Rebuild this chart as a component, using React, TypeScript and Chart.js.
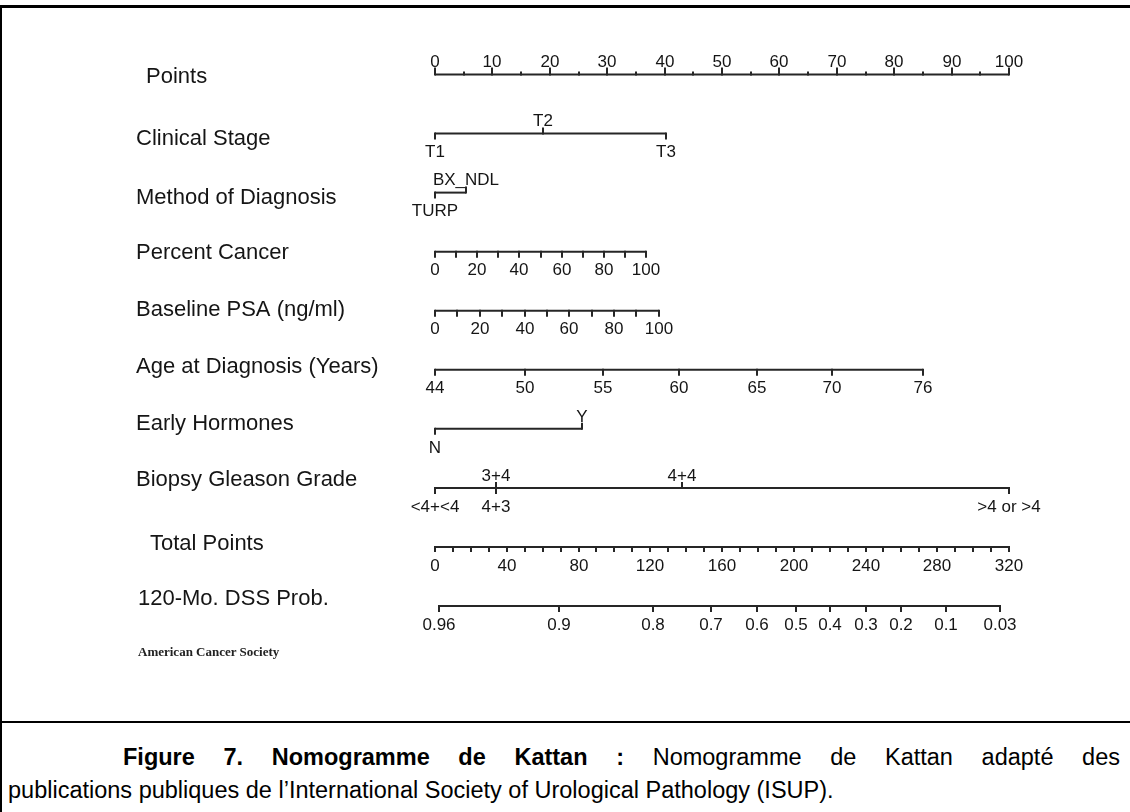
import React, { useEffect, useRef } from 'react';
import { Chart, registerables } from 'chart.js';
Chart.register(...registerables);

// ---------- data ----------
const rowNames = [
  'Points',
  'Clinical Stage',
  'Method of Diagnosis',
  'Percent Cancer',
  'Baseline PSA (ng/ml)',
  'Age at Diagnosis (Years)',
  'Early Hormones',
  'Biopsy Gleason Grade',
  'Total Points',
  '120-Mo. DSS Prob.',
];

const pointsMajor = [0, 10, 20, 30, 40, 50, 60, 70, 80, 90, 100];
const pointsMinor = [5, 15, 25, 35, 45, 55, 65, 75, 85, 95];

const stageLabels = ['T1', 'T2', 'T3'];
const stagePoints = [0, 18.8, 40.2];

const methodLabels = ['TURP', 'BX_NDL'];
const methodPoints = [0, 5.4];

const percentValues = [0, 10, 20, 30, 40, 50, 60, 70, 80, 90, 100];
const percentLabelValues = [0, 20, 40, 60, 80, 100];
const percentMaxPoints = 36.8;

const psaValues = [0, 10, 20, 30, 40, 50, 60, 70, 80, 90, 100];
const psaLabelValues = [0, 20, 40, 60, 80, 100];
const psaMaxPoints = 39.0;

const ageValues = [44, 50, 55, 60, 65, 70, 76];
const agePoints = [0, 15.7, 29.2, 42.5, 56.1, 69.2, 85.0];

const hormoneLabels = ['N', 'Y'];
const hormonePoints = [0, 25.6];

const gleasonLabels = ['<4+<4', '3+4', '4+3', '4+4', '>4 or >4'];
const gleasonPoints = [0, 10.6, 10.6, 43.0, 100];

const totalValues = [0, 10, 20, 30, 40, 50, 60, 70, 80, 90, 100, 110, 120, 130, 140, 150, 160, 170, 180, 190, 200, 210, 220, 230, 240, 250, 260, 270, 280, 290, 300, 310, 320];
const totalLabelValues = [0, 40, 80, 120, 160, 200, 240, 280, 320];
const totalMax = 320;

const dssLabels = ['0.96', '0.9', '0.8', '0.7', '0.6', '0.5', '0.4', '0.3', '0.2', '0.1', '0.03'];
const dssTotalPoints = [2.2, 69, 121.5, 154, 179.5, 201, 220, 240, 260, 285, 315];

// ---------- styles ----------
const INK = '#151515';
const LINE = '#262626';
const ROW_FONT = '22px "Liberation Sans", Arial, sans-serif';
const TICK_FONT = '17px "Liberation Sans", Arial, sans-serif';
const rowLabelX = [146, 136, 136, 136, 136, 136, 136, 136, 150, 138];
const rowLabelDy = [2.5, 5.4, 5.4, 1.3, -0.7, -2.8, -4.9, -7.9, -3, -7];

type Mark = { p: number; tick: number; dir: 'up' | 'down' | 'both' | 'none'; label?: string; side?: 'above' | 'below' };

export default function App() {
  const ref = useRef<HTMLCanvasElement>(null);

  useEffect(() => {
    const canvas = ref.current!;
    const rows: Mark[][] = [];
    rows.push([
      ...pointsMajor.map((v) => ({ p: v, tick: 7, dir: 'up' as const, label: String(v), side: 'above' as const })),
      ...pointsMinor.map((v) => ({ p: v, tick: 3, dir: 'up' as const })),
    ]);
    rows.push(stageLabels.map((l, i) => ({ p: stagePoints[i], tick: 6, dir: i === 1 ? 'up' as const : 'down' as const, label: l, side: i === 1 ? 'above' as const : 'below' as const })));
    rows.push(methodLabels.map((l, i) => ({ p: methodPoints[i], tick: 6, dir: i === 1 ? 'up' as const : 'down' as const, label: l, side: i === 1 ? 'above' as const : 'below' as const })));
    rows.push(percentValues.map((v) => ({ p: (v / 100) * percentMaxPoints, tick: 6, dir: 'down' as const, label: percentLabelValues.includes(v) ? String(v) : undefined, side: 'below' as const })));
    rows.push(psaValues.map((v) => ({ p: (v / 100) * psaMaxPoints, tick: 6, dir: 'down' as const, label: psaLabelValues.includes(v) ? String(v) : undefined, side: 'below' as const })));
    rows.push(ageValues.map((v, i) => ({ p: agePoints[i], tick: 6, dir: 'down' as const, label: String(v), side: 'below' as const })));
    rows.push(hormoneLabels.map((l, i) => ({ p: hormonePoints[i], tick: 6, dir: i === 1 ? 'up' as const : 'down' as const, label: l, side: i === 1 ? 'above' as const : 'below' as const })));
    const gDir: Mark['dir'][] = ['down', 'both', 'none', 'up', 'down'];
    const gSide: ('above' | 'below')[] = ['below', 'above', 'below', 'above', 'below'];
    rows.push(gleasonLabels.map((l, i) => ({ p: gleasonPoints[i], tick: 6, dir: gDir[i], label: l, side: gSide[i] })));
    rows.push(totalValues.map((v) => ({ p: (v / totalMax) * 100, tick: 5, dir: 'down' as const, label: totalLabelValues.includes(v) ? String(v) : undefined, side: 'below' as const })));
    rows.push(dssLabels.map((l, i) => ({ p: (dssTotalPoints[i] / totalMax) * 100, tick: 6, dir: 'down' as const, label: l, side: 'below' as const })));

    const datasets = rows.map((marks, i) => {
      const ps = marks.map((m) => m.p);
      return {
        data: [
          { x: Math.min(...ps), y: i },
          { x: Math.max(...ps), y: i },
        ],
        borderColor: LINE,
        borderWidth: 2,
        pointRadius: 0,
        showLine: true,
        clip: false as const,
      };
    });

    const nomo = {
      id: 'nomo',
      afterDatasetsDraw(chart: any) {
        const { ctx } = chart;
        const xs = chart.scales.x;
        const ys = chart.scales.y;
        ctx.save();
        rows.forEach((marks, i) => {
          const py = ys.getPixelForValue(i);
          ctx.font = ROW_FONT;
          ctx.fillStyle = INK;
          ctx.textAlign = 'left';
          ctx.textBaseline = 'middle';
          ctx.fillText(rowNames[i], rowLabelX[i], py + rowLabelDy[i]);
          ctx.strokeStyle = LINE;
          ctx.lineWidth = 2;
          ctx.lineCap = 'butt';
          marks.forEach((m) => {
            const px = Math.round(xs.getPixelForValue(m.p));
            if (m.dir !== 'none') {
              const y0 = m.dir === 'down' ? py - 1 : py - m.tick;
              const y1 = m.dir === 'up' ? py + 1 : py + m.tick;
              ctx.beginPath();
              ctx.moveTo(px, y0);
              ctx.lineTo(px, y1);
              ctx.stroke();
            }
            if (m.label) {
              ctx.font = TICK_FONT;
              ctx.textAlign = 'center';
              ctx.textBaseline = 'middle';
              ctx.fillText(m.label, px, m.side === 'above' ? py - 12 : py + 19);
            }
          });
        });
        ctx.restore();
      },
    };

    const chart = new Chart(canvas, {
      type: 'scatter',
      data: { datasets },
      options: {
        animation: false,
        responsive: false,
        devicePixelRatio: 1,
        layout: { padding: { left: 435, right: 121, top: 74.5, bottom: 116 } },
        scales: {
          x: { type: 'linear', min: 0, max: 100, display: false },
          y: { type: 'linear', min: 0, max: 9, reverse: true, display: false },
        },
        plugins: { legend: { display: false }, tooltip: { enabled: false }, title: { display: false } },
        events: [],
      },
      plugins: [nomo],
    });
    return () => chart.destroy();
  }, []);

  return (
    <div style={{ position: 'absolute', left: 0, top: 0, width: 1130, height: 812, background: '#fff', overflow: 'hidden' }}>
      <div style={{ position: 'absolute', left: 0, top: 5, width: 1130, height: 3, background: '#000' }} />
      <div style={{ position: 'absolute', left: 0, top: 5, width: 2, height: 807, background: '#000' }} />
      <div style={{ position: 'absolute', left: 0, top: 721, width: 1130, height: 2, background: '#000' }} />
      <canvas ref={ref} width={1130} height={722} style={{ position: 'absolute', left: 0, top: 0, width: 1130, height: 722 }} />
      <div style={{ position: 'absolute', left: 138, top: 644, font: 'bold 13px "Liberation Serif", "Times New Roman", serif', color: '#222' }}>
        American Cancer Society
      </div>
      <div style={{ position: 'absolute', left: 8, top: 741, width: 1112, font: '23.5px "Liberation Sans", Arial, sans-serif', lineHeight: '33px', color: '#000' }}>
        <div style={{ textAlign: 'justify', textAlignLast: 'justify', paddingLeft: 115 }}>
          <b>Figure 7. Nomogramme de Kattan :</b> Nomogramme de Kattan adapté des
        </div>
        <div>publications publiques de l’International Society of Urological Pathology (ISUP).</div>
      </div>
    </div>
  );
}
